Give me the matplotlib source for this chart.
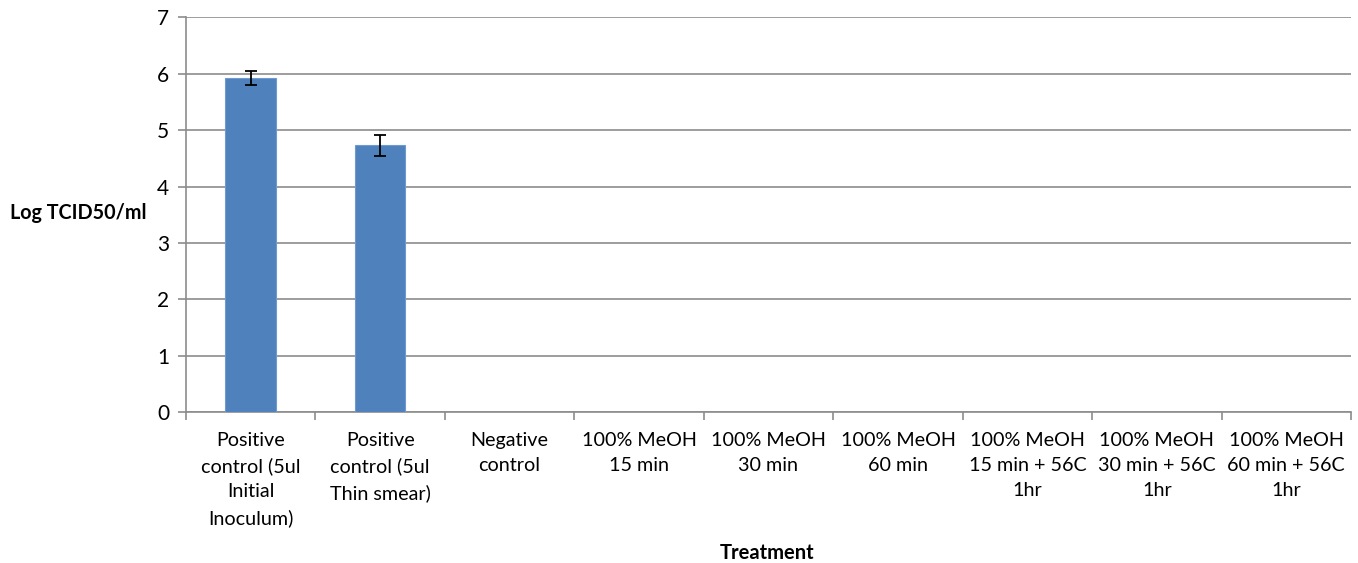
import matplotlib
matplotlib.use("Agg")
import matplotlib.pyplot as plt
import numpy as np

categories = ["Positive\ncontrol (5ul\nInitial\nInoculum)", "Positive\ncontrol (5ul\nThin smear)",
              "Negative\ncontrol", "100% MeOH\n15 min", "100% MeOH\n30 min", "100% MeOH\n60 min",
              "100% MeOH\n15 min + 56C\n1hr", "100% MeOH\n30 min + 56C\n1hr", "100% MeOH\n60 min + 56C\n1hr"]
values = [5.92, 4.73, 0, 0, 0, 0, 0, 0, 0]
errors = [0.125, 0.185, 0, 0, 0, 0, 0, 0, 0]

plt.rcParams['font.family'] = ['Lato', 'DejaVu Sans']
fig = plt.figure(figsize=(13.58, 5.63), dpi=100)
ax = fig.add_axes([186/1358, 1 - 412.3/563, 1165/1358, (412.3 - 17.3)/563])

x = np.arange(len(categories))
vals = np.array(values)
errs = np.array(errors)
mask = vals > 0
ax.bar(x, vals, width=0.39, color="#4F81BD", edgecolor="#6F9AD0", linewidth=0.8, zorder=3)
ax.errorbar(x[mask], vals[mask], yerr=errs[mask], fmt='none', ecolor='black', elinewidth=1.3,
            capsize=4, capthick=1.3, zorder=4)

ax.set_xlim(-0.5, len(categories) - 0.5)
ax.set_ylim(0, 7)
ax.set_yticks(range(0, 8))
ax.yaxis.grid(True, color="#8C8C8C", linewidth=1.2, zorder=0)
ax.set_axisbelow(True)
for s in ['top', 'right']:
    ax.spines[s].set_visible(False)
for s in ['left', 'bottom']:
    ax.spines[s].set_color("#8C8C8C")
    ax.spines[s].set_linewidth(1.2)

ax.set_xticks(x)
ax.set_xticklabels(categories, fontsize=14.2, linespacing=1.58)
ax.tick_params(axis='x', length=0, pad=14)
ax.set_xticks(np.arange(-0.5, len(categories)), minor=True)
ax.tick_params(axis='x', which='minor', length=6, color="#8C8C8C", width=1.2)
ax.tick_params(axis='y', labelsize=15, length=6, color="#8C8C8C", width=1.2, pad=6)

fig.text(10/1358, 1 - 213/563, "Log TCID50/ml", fontsize=14.2, fontweight='bold', va='center', ha='left')
fig.text(767/1358, 1 - 553/563, "Treatment", fontsize=14.5, fontweight='bold', va='center', ha='center')

fig.savefig("out.png", dpi=100)
